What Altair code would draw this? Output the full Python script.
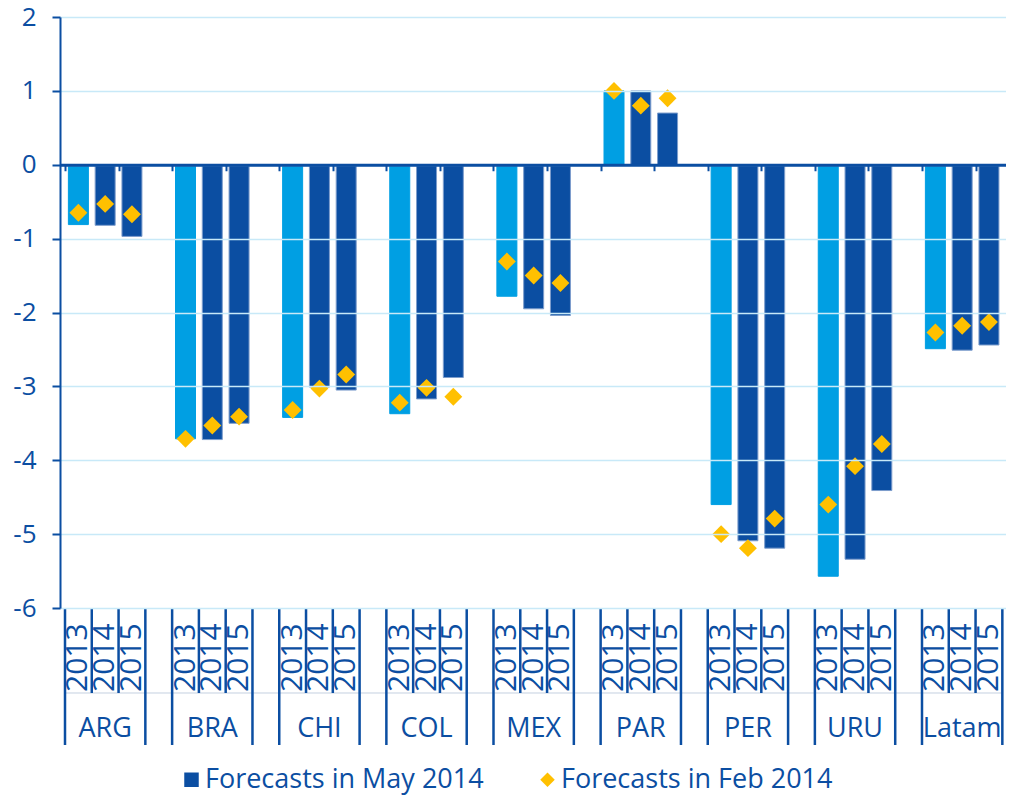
import altair as alt
import pandas as pd

countries = ["ARG", "BRA", "CHI", "COL", "MEX", "PAR", "PER", "URU", "Latam"]
years = ["2013", "2014", "2015"]
# values per country, in order 2013, 2014, 2015
may_2014 = [-0.81, -0.82, -0.97,
            -3.71, -3.72, -3.50,
            -3.42, -3.01, -3.05,
            -3.37, -3.17, -2.88,
            -1.78, -1.95, -2.04,
            1.00, 1.00, 0.70,
            -4.60, -5.09, -5.19,
            -5.57, -5.34, -4.41,
            -2.49, -2.51, -2.44]
feb_2014 = [-0.65, -0.53, -0.67,
            -3.71, -3.53, -3.41,
            -3.32, -3.03, -2.84,
            -3.22, -3.02, -3.14,
            -1.31, -1.50, -1.60,
            1.00, 0.80, 0.90,
            -5.00, -5.19, -4.79,
            -4.60, -4.08, -3.78,
            -2.27, -2.18, -2.13]
series_names = ["Forecasts in May 2014", "Forecasts in Feb 2014"]
y_ticks = [-6, -5, -4, -3, -2, -1, 0, 1, 2]

DARK = "#0B4EA2"
LIGHT = "#009FE3"
GOLD = "#FFC000"
TEXT = "#0B4EA2"
GRID = "#C8E9F8"
FONT = "Open Sans"

W, H = 946, 591
XMAX = 34.95
ZERO_PX = H * 2 / 8

rows = []
for ci, c in enumerate(countries):
    for yi, y in enumerate(years):
        k = ci * 3 + yi
        rows.append(dict(country=c, year=y, slot=ci * 4 + yi + 0.5,
                         may=may_2014[k], feb=feb_2014[k], series=series_names[1]))
df = pd.DataFrame(rows)

cdf = pd.DataFrame([dict(country=c, center=ci * 4 + 1.5) for ci, c in enumerate(countries)])
long_df = pd.DataFrame({"pos": [p for ci in range(len(countries)) for p in (ci * 4, ci * 4 + 3)]})
short_df = pd.DataFrame({"pos": [p for ci in range(len(countries)) for p in (ci * 4 + 1, ci * 4 + 2)]})

xscale = alt.Scale(domain=[0, XMAX], nice=False, zero=False)
xax = alt.Axis(orient="bottom", offset=-(H - ZERO_PX), values=list(range(35)), labels=False,
               tickSize=6, tickWidth=2, tickColor=DARK, domainColor=DARK, domainWidth=3,
               grid=False, title=None, zindex=1)
yscale = alt.Scale(domain=[-6, 2], nice=False, zero=False)
yax = alt.Axis(values=y_ticks, labelExpr="'' + datum.value", labelFontSize=26, labelFont=FONT,
               labelColor=TEXT, labelPadding=16, tickSize=8, tickWidth=2, tickColor=DARK,
               domainColor=DARK, domainWidth=2, gridColor=GRID, gridWidth=1.5, title=None, zindex=1)

base = alt.Chart(df)

bars = base.mark_bar(size=20, strokeWidth=1).encode(
    x=alt.X("slot:Q", scale=xscale, axis=xax),
    y=alt.Y("may:Q", scale=yscale, axis=yax),
    y2=alt.datum(0),
    color=alt.condition(alt.datum.year == "2013", alt.value(LIGHT), alt.value(DARK)),
    stroke=alt.condition(alt.datum.year == "2013", alt.value(LIGHT), alt.value("#7D9DCC")),
)

leg = alt.Legend(orient="none", legendX=118, legendY=749, direction="horizontal", title=None,
                 labelFontSize=27, labelFont=FONT, labelColor=TEXT, symbolSize=210,
                 labelOffset=0, columnPadding=50, symbolStrokeWidth=0, labelLimit=0)

points = base.mark_point(filled=True, size=320, opacity=1).encode(
    x=alt.X("slot:Q", scale=xscale, axis=xax),
    y=alt.Y("feb:Q", scale=yscale, axis=yax),
    color=alt.Color("series:N", scale=alt.Scale(domain=series_names, range=[DARK, GOLD]), legend=leg),
    shape=alt.Shape("series:N", scale=alt.Scale(domain=series_names, range=["square", "diamond"]), legend=leg),
)

year_text = base.mark_text(angle=270, align="left", baseline="middle", fontSize=30,
                           font=FONT, color=TEXT).encode(
    x=alt.X("slot:Q", scale=xscale, axis=xax),
    y=alt.value(675),
    text="year:N",
)

country_text = alt.Chart(cdf).mark_text(align="center", baseline="alphabetic", fontSize=27,
                                        font=FONT, color=TEXT).encode(
    x=alt.X("center:Q", scale=xscale, axis=xax),
    y=alt.value(720),
    text="country:N",
)

long_rules = alt.Chart(long_df).mark_rule(color=DARK, strokeWidth=2.5).encode(
    x=alt.X("pos:Q", scale=xscale, axis=xax),
    y=alt.value(H),
    y2=alt.value(H + 137),
)
short_rules = alt.Chart(short_df).mark_rule(color=DARK, strokeWidth=2.5).encode(
    x=alt.X("pos:Q", scale=xscale, axis=xax),
    y=alt.value(H),
    y2=alt.value(H + 85),
)
faint = alt.Chart(cdf).mark_rule(color="#E1E7EF", strokeWidth=1).encode(
    x=alt.datum(0), x2=alt.datum(XMAX), y=alt.value(H + 85),
)

chart = alt.layer(faint, long_rules, short_rules, bars, points, year_text, country_text).properties(
    width=W, height=H,
    autosize=alt.AutoSizeParams(type="none"),
    padding={"left": 52, "top": 9, "right": 0, "bottom": 187},
    background="white",
).configure_view(stroke=None)

chart.save("out.html", embed_options={"renderer": "svg", "actions": False})
